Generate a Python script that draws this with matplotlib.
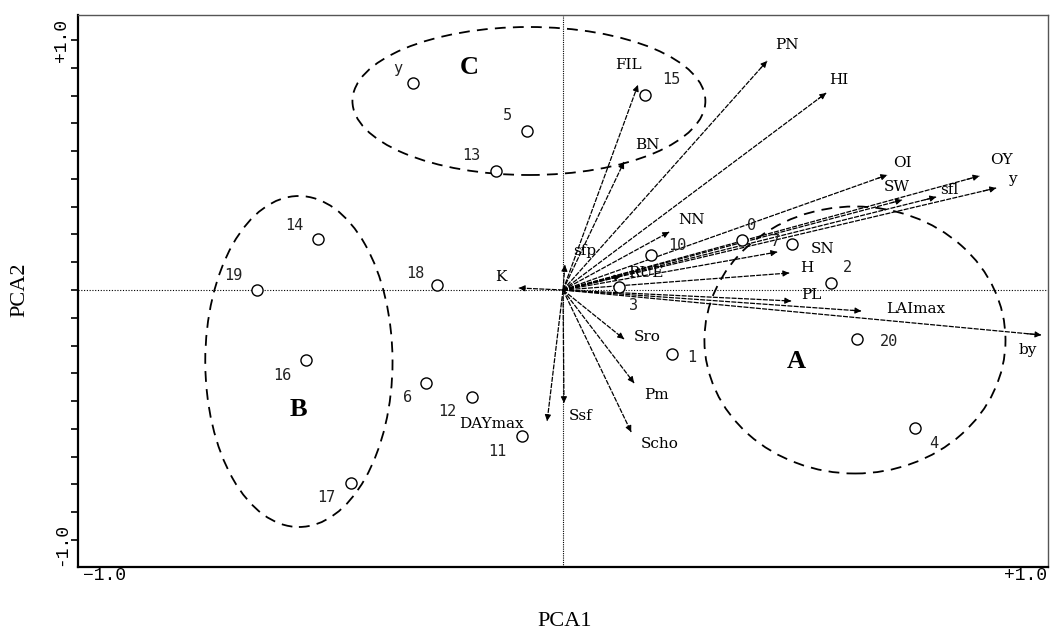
import numpy as np
import matplotlib
matplotlib.use("Agg")
import matplotlib.pyplot as plt
from matplotlib.patches import Ellipse

# variable loadings (arrows)
var_names = ["PN", "HI", "FIL", "BN", "NN", "OI", "OY", "y", "SW", "sfl",
             "SN", "H", "PL", "LAImax", "by", "Sro", "Pm", "Scho", "Ssf",
             "DAYmax", "K", "sfp", "RUE"]
var_x = [0.425, 0.548, 0.156, 0.127, 0.221, 0.675, 0.867, 0.902, 0.706, 0.777,
         0.446, 0.471, 0.475, 0.621, 0.996, 0.127, 0.148, 0.142, 0.002,
         -0.033, -0.092, 0.004, 0.12]
var_y = [0.916, 0.788, 0.82, 0.512, 0.232, 0.46, 0.456, 0.408, 0.36, 0.372,
         0.152, 0.068, -0.044, -0.084, -0.18, -0.196, -0.372, -0.568, -0.452,
         -0.524, 0.008, 0.1, 0.055]

# sample scores (circles)
smp_names = ["15", "y", "5", "13", "14", "19", "18", "16", "6", "12", "11",
             "17", "1", "20", "4", "2", "7", "0", "10", "3"]
smp_x = [0.171, -0.313, -0.075, -0.14, -0.51, -0.638, -0.263, -0.535, -0.285,
         -0.19, -0.085, -0.442, 0.227, 0.613, 0.733, 0.558, 0.477, 0.373,
         0.183, 0.117]
smp_y = [0.78, 0.828, 0.636, 0.476, 0.204, 0.0, 0.02, -0.28, -0.372, -0.428,
         -0.584, -0.772, -0.256, -0.196, -0.552, 0.028, 0.184, 0.2, 0.14, 0.012]

# groups: name, centre x, centre y, width, height
grp_names = ["A", "B", "C"]
grp_cx = [0.608, -0.55, -0.071]
grp_cy = [-0.2, -0.286, 0.756]
grp_w = [0.627, 0.39, 0.735]
grp_h = [1.068, 1.324, 0.592]
grp_lab_x = [0.485, -0.55, -0.196]
grp_lab_y = [-0.288, -0.476, 0.892]

# label offsets in pixels
var_off = {"PN": (20, 16), "HI": (13, 13), "FIL": (-9, 20), "BN": (23, 17),
           "NN": (22, 12), "OI": (15, 12), "OY": (22, 16), "y": (16, 9),
           "SW": (-5, 13), "sfl": (13, 7), "SN": (45, 3), "H": (18, 5),
           "PL": (20, 6), "LAImax": (55, 2), "by": (-14, -15), "Sro": (23, 2),
           "Pm": (22, -12), "Scho": (28, -12), "Ssf": (17, -13),
           "DAYmax": (-56, -3), "K": (-18, 11), "sfp": (20, 14), "RUE": (25, 3)}
smp_off = {"15": (26, 16), "y": (-15, 15), "5": (-20, 16), "13": (-24, 15),
           "14": (-24, 14), "19": (-23, 14), "18": (-21, 12), "16": (-24, -15),
           "6": (-19, -14), "12": (-24, -15), "11": (-25, -15), "17": (-24, -15),
           "1": (20, -3), "20": (32, -3), "4": (19, -15), "2": (16, 16),
           "7": (-16, 2), "0": (9, 15), "10": (26, 9), "3": (14, -18)}

mono = "Liberation Mono"
serif = "Liberation Serif"

fig = plt.figure(figsize=(10.5, 6.3), dpi=100)
ax = fig.add_axes([78/1050, 63/630, 970/1050, 552/630])
ax.set_xlim(-1.01, 1.01)
ax.set_ylim(-1.108, 1.1)

ax.axhline(0, color="k", lw=0.8, ls=(0, (1, 1.5)), zorder=1)
ax.axvline(0, color="k", lw=0.8, ls=(0, (1, 1)), zorder=1)

# arrows
for n, x, y in zip(var_names, var_x, var_y):
    ax.plot([0, x], [0, y], color="k", lw=0.9, ls=(0, (4, 1)), zorder=2)
    ax.annotate("", xy=(x, y), xytext=(x * 0.97, y * 0.97),
                arrowprops=dict(arrowstyle="-|>", color="k", lw=0.8,
                                mutation_scale=9, shrinkA=0, shrinkB=0))
    dx, dy = var_off[n]
    ax.annotate(n, (x, y), xytext=(dx, dy), textcoords="offset pixels",
                ha="center", va="center", fontsize=11, family="DejaVu Serif")

# samples
ax.plot(smp_x, smp_y, "o", ms=8, mfc="white", mec="k", mew=1, zorder=4)
for n, x, y in zip(smp_names, smp_x, smp_y):
    dx, dy = smp_off[n]
    ax.annotate(n, (x, y), xytext=(dx, dy), textcoords="offset pixels",
                ha="center", va="center", fontsize=11, family="DejaVu Sans Mono",
                color="#222222")

# groups
for n, cx, cy, w, h, lx, ly in zip(grp_names, grp_cx, grp_cy, grp_w, grp_h,
                                   grp_lab_x, grp_lab_y):
    ax.add_patch(Ellipse((cx, cy), w, h, fill=False, ec="k", lw=1.3,
                         ls=(0, (6, 4)), zorder=3))
    ax.text(lx, ly, n, fontsize=19, fontweight="bold", family=serif,
            ha="center", va="center")

# axes styling
ax.set_xticks([])
ax.set_yticks(np.linspace(-1, 1, 19))
ax.set_yticklabels([])
ax.tick_params(axis="y", direction="out", length=5, width=1.2)
for s in ["left", "bottom"]:
    ax.spines[s].set_linewidth(1.6)
for s in ["top", "right"]:
    ax.spines[s].set_linewidth(1.0)
    ax.spines[s].set_color("#555555")

ax.text(-1.0, -1.108, "\u22121.0", ha="left", va="top", fontsize=13,
        family=mono)
ax.text(1.008, -1.108, "+1.0", ha="right", va="top", fontsize=13, family=mono)
ax.text(-1.045, 1.0, "+1.0", ha="center", va="center", rotation=90,
        fontsize=13, family=mono)
ax.text(-1.045, -1.02, "-1.0", ha="center", va="center", rotation=90,
        fontsize=13, family=mono)

fig.text(565/1050, 1 - 622/630, "PCA1", ha="center", va="center",
         fontsize=16, family=serif)
fig.text(20/1050, 1 - 290/630, "PCA2", ha="center", va="center",
         rotation=90, fontsize=16, family=serif)

fig.savefig("out.png", dpi=100)
